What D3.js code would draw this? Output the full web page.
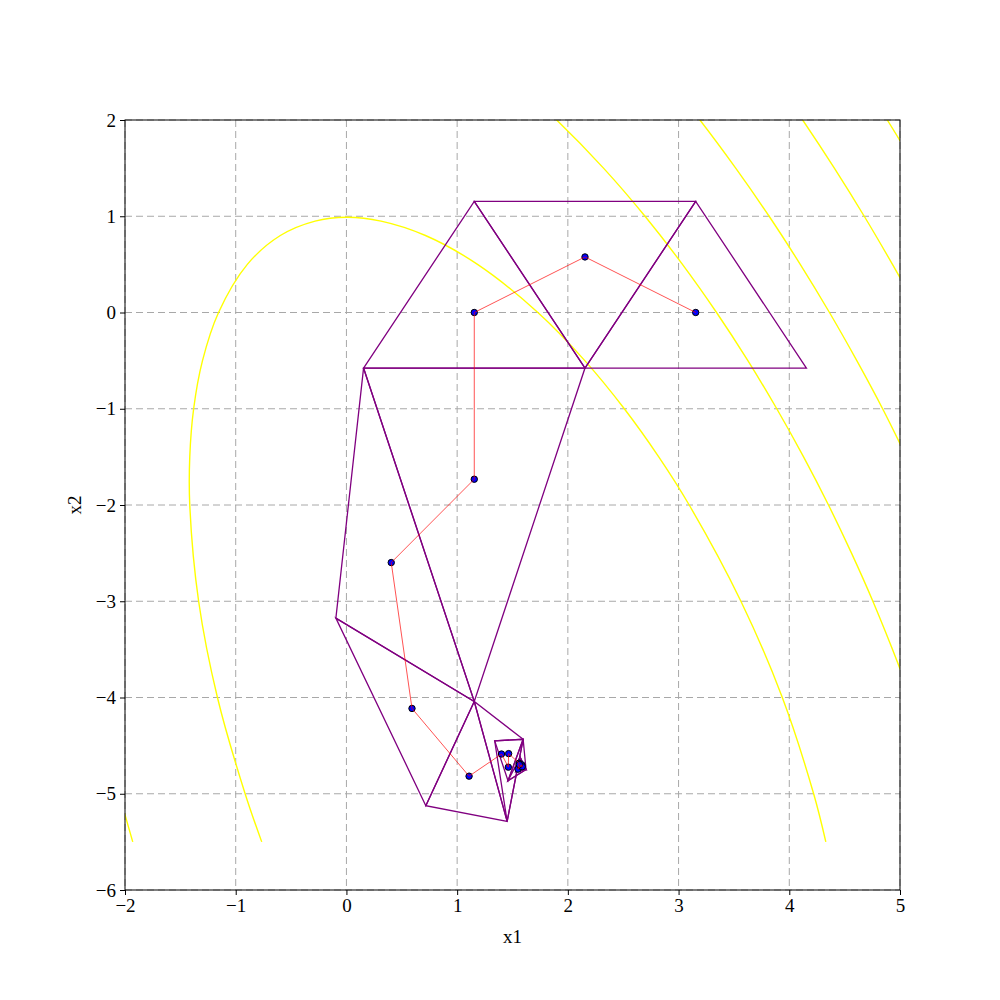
<!DOCTYPE html>
<html><head><meta charset="utf-8">
<script src="https://cdn.jsdelivr.net/npm/d3@7"></script>
<style>
body{margin:0;background:#fff}
text{font-family:'Liberation Serif','Times New Roman',serif;fill:#000}
</style>
</head><body>
<svg id="chart" width="1000" height="1000"></svg>
<script>
// ---- data ----
const xTicks = [-2,-1,0,1,2,3,4,5];
const xTickLabels = ["−2","−1","0","1","2","3","4","5"];
const yTicks = [-6,-5,-4,-3,-2,-1,0,1,2];
const yTickLabels = ["−6","−5","−4","−3","−2","−1","0","1","2"];
const xLabel = "x1";
const yLabel = "x2";

// contour lines of the objective, [x1, x2] points
const contour1 = [[-0.765,-5.5],[-0.915,-5.0],[-1.165,-4.0],[-1.335,-3.0],[-1.415,-2.0],[-1.415,-1.5],[-1.38,-1.0],[-1.30,-0.5],[-1.155,0.0],[-0.895,0.5],[-0.597,0.8],[-0.283,0.95],[0.003,0.99],[0.313,0.95],[0.714,0.8],[1.184,0.5],[1.729,0.0],[2.153,-0.5],[2.51,-1.0],[2.821,-1.5],[3.096,-2.0],[3.563,-3.0],[3.937,-4.0],[4.22,-5.0],[4.33,-5.5]];
const contour2a = [[-2.04,-5.08],[-2.0,-5.22],[-1.965,-5.36],[-1.93,-5.5]];
const contour2b = [[1.612,2.3],[1.899,2.0],[2.322,1.5],[2.697,1.0],[3.035,0.5],[3.343,0.0],[3.626,-0.5],[3.887,-1.0],[4.129,-1.5],[4.354,-2.0],[4.562,-2.5],[4.755,-3.0],[5.0,-3.7],[5.097,-4.0]];
const contour3 = [[2.843,2.5],[3.193,2.0],[3.516,1.5],[3.818,1.0],[4.099,0.5],[4.363,0.0],[4.610,-0.5],[4.843,-1.0],[5.269,-2.0]];
const contour4 = [[3.819,2.5],[4.121,2.0],[4.407,1.5],[4.677,1.0],[4.932,0.5],[5.175,0.0]];
const contour5 = [[4.608,2.5],[4.885,2.0],[5.15,1.5]];
const contours = [contour1, contour2a, contour2b, contour3, contour4, contour5];

// simplex vertices [x1, x2]
const simplexVertices = [
  [0.1547,-0.5774],[2.1547,-0.5774],[1.1547,1.1547],[3.1547,1.1547],[4.1547,-0.5774],
  [1.1547,-4.0415],[-0.0953,-3.1755],[0.7172,-5.1240],[1.4516,-5.2864],[1.5961,-4.4339],
  [1.3393,-4.4508],[1.4596,-4.8644],[1.6222,-4.7483],[1.5685,-4.6202],[1.5275,-4.7743],
  [1.5614,-4.7293],[1.5802,-4.6795],[1.5451,-4.6824]
];
// each simplex as three vertex indices
const simplexTriangles = [
  [3,1,4],[3,1,2],[1,2,0],[0,1,5],[0,5,6],[5,6,7],[5,7,8],[5,8,9],
  [8,9,10],[9,10,11],[9,11,12],[11,12,13],[12,13,14],[12,13,15],[12,15,16],[15,16,17]
];
// centroid path
const centroidX1 = [3.1547,2.1547,1.1547,1.1547,0.4047,0.5922,1.1078,1.4008,1.4623,1.4650,1.5593,1.5501,1.5727,1.5840,1.5879,1.5622];
const centroidX2 = [0.0,0.5773,0.0,-1.7321,-2.5981,-4.1137,-4.8173,-4.5873,-4.7237,-4.5830,-4.6822,-4.7443,-4.7143,-4.6993,-4.7190,-4.6971];

// ---- layout ----
const L = 125, R = 900, T = 120, B = 890;
const svg = d3.select("#chart");
const x = d3.scaleLinear().domain([-2,5]).range([L,R]);
const y = d3.scaleLinear().domain([-6,2]).range([B,T]);

svg.append("defs").append("clipPath").attr("id","plotclip")
  .append("rect").attr("x",L).attr("y",T).attr("width",R-L).attr("height",B-T);

// grid
const grid = svg.append("g");
xTicks.forEach(v => grid.append("line")
  .attr("x1",x(v)).attr("x2",x(v)).attr("y1",T).attr("y2",B)
  .attr("stroke","#a8a8a8").attr("stroke-width",1).attr("stroke-dasharray","7,4"));
yTicks.forEach(v => grid.append("line")
  .attr("y1",y(v)).attr("y2",y(v)).attr("x1",L).attr("x2",R)
  .attr("stroke","#a8a8a8").attr("stroke-width",1).attr("stroke-dasharray","7,4"));

const plot = svg.append("g").attr("clip-path","url(#plotclip)");

// contours
const cline = d3.line().x(d=>x(d[0])).y(d=>y(d[1])).curve(d3.curveCatmullRom.alpha(0.5));
plot.selectAll("path.contour").data(contours).join("path")
  .attr("class","contour").attr("d",cline)
  .attr("fill","none").attr("stroke","#ffff00").attr("stroke-width",1.4);

// simplices
const tline = d3.line().x(d=>x(d[0])).y(d=>y(d[1]));
plot.selectAll("path.simplex").data(simplexTriangles).join("path")
  .attr("class","simplex")
  .attr("d", t => tline(t.map(i=>simplexVertices[i])) + "Z")
  .attr("fill","none").attr("stroke","#800080").attr("stroke-width",1.3)
  .attr("stroke-linejoin","miter");

// centroid markers
const cpts = centroidX1.map((v,i)=>[v, centroidX2[i]]);
plot.selectAll("circle.cent").data(cpts).join("circle")
  .attr("class","cent").attr("cx",d=>x(d[0])).attr("cy",d=>y(d[1])).attr("r",3.2)
  .attr("fill","#0000ff").attr("stroke","#000").attr("stroke-width",1);

// centroid path
plot.append("path").attr("d", tline(cpts))
  .attr("fill","none").attr("stroke","#ff0000").attr("stroke-width",0.8).attr("stroke-opacity",0.85);

// axes
const xAxis = d3.axisBottom(x).tickValues(xTicks).tickFormat((d,i)=>xTickLabels[i]).tickSize(5).tickPadding(4);
const yAxis = d3.axisLeft(y).tickValues(yTicks).tickFormat((d,i)=>yTickLabels[i]).tickSize(5).tickPadding(4);
const gx = svg.append("g").attr("transform",`translate(0,${B})`).call(xAxis);
const gy = svg.append("g").attr("transform",`translate(${L},0)`).call(yAxis);
[gx,gy].forEach(g=>{
  g.select(".domain").remove();
  g.selectAll("text").style("font-size","19px").style("font-family","'Liberation Serif','Times New Roman',serif");
  g.selectAll("line").attr("stroke","#000");
});

// spines
svg.append("rect").attr("x",L).attr("y",T).attr("width",R-L).attr("height",B-T)
  .attr("fill","none").attr("stroke","#000").attr("stroke-width",1);

// labels
svg.append("text").attr("x",(L+R)/2).attr("y",943).attr("text-anchor","middle")
  .style("font-size","19px").text(xLabel);
svg.append("text").attr("transform",`translate(81,${(T+B)/2}) rotate(-90)`).attr("text-anchor","middle")
  .style("font-size","19px").text(yLabel);
</script>
</body></html>
